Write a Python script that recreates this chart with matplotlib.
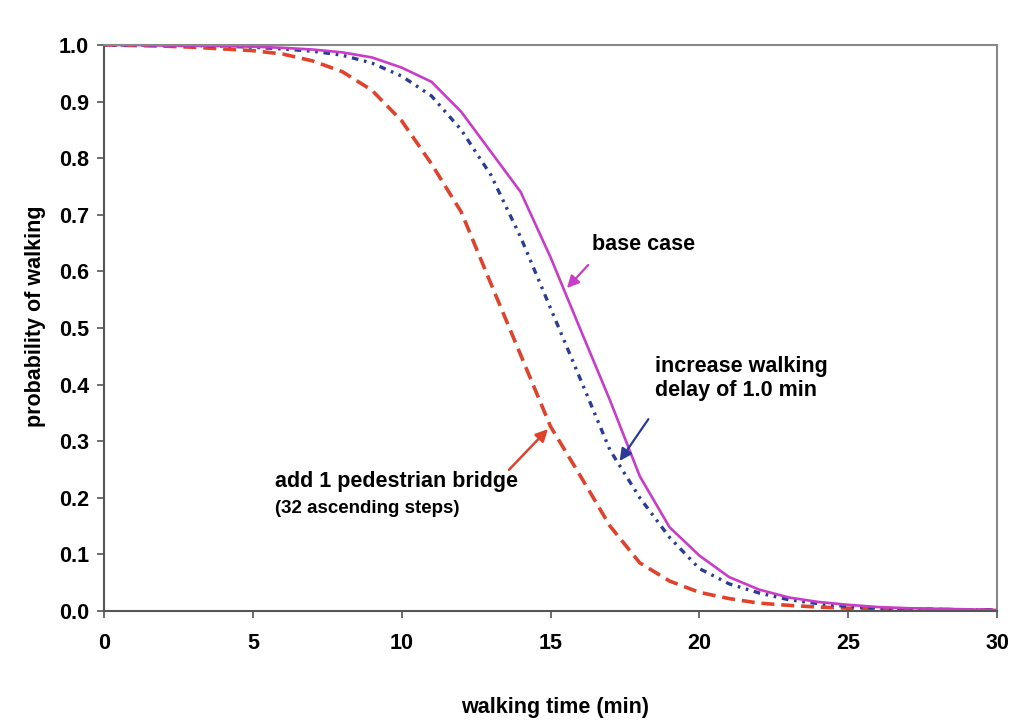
import numpy as np
import matplotlib

matplotlib.use("Agg")
import matplotlib.pyplot as plt

plt.rcParams["font.family"] = ["Liberation Sans", "DejaVu Sans"]
plt.rcParams["font.weight"] = "bold"

# walking time (min)
minutes = list(range(0, 31))

# probability of walking
base_case = [1.000, 1.000, 0.999, 0.999, 0.998, 0.997, 0.995, 0.992, 0.987, 0.978,
             0.960, 0.935, 0.882, 0.811, 0.740, 0.625, 0.498, 0.372, 0.238, 0.148,
             0.098, 0.060, 0.038, 0.024, 0.016, 0.011, 0.007, 0.005, 0.004, 0.003,
             0.002]
delay_1min = [1.000, 1.000, 0.999, 0.999, 0.998, 0.996, 0.993, 0.989, 0.982, 0.968,
              0.945, 0.910, 0.850, 0.770, 0.660, 0.535, 0.410, 0.284, 0.200, 0.130,
              0.075, 0.048, 0.032, 0.020, 0.013, 0.008, 0.005, 0.004, 0.003, 0.002,
              0.002]
ped_bridge = [1.000, 0.999, 0.998, 0.996, 0.993, 0.990, 0.984, 0.972, 0.953, 0.920,
              0.866, 0.790, 0.705, 0.578, 0.452, 0.326, 0.239, 0.150, 0.085, 0.053,
              0.033, 0.022, 0.014, 0.010, 0.007, 0.005, 0.004, 0.003, 0.003, 0.002,
              0.002]

x_ticks = [0, 5, 10, 15, 20, 25, 30]
y_ticks = [0.0, 0.1, 0.2, 0.3, 0.4, 0.5, 0.6, 0.7, 0.8, 0.9, 1.0]

MAGENTA = "#c83cc8"
BLUE = "#2a3c98"
RED = "#e0422c"

fig = plt.figure(figsize=(10.21, 7.22), dpi=100)
ax = fig.add_axes([0.1019, 0.1537, 0.8746, 0.784])

ax.plot(minutes, ped_bridge, color=RED, linewidth=2.6, dashes=(3.6, 1.9))
ax.plot(minutes, delay_1min, color=BLUE, linewidth=2.4,
        dashes=(0.8, 1.7, 0.8, 1.7, 2.0, 1.7))
ax.plot(minutes, base_case, color=MAGENTA, linewidth=1.9)

ax.set_xlim(0, 30)
ax.set_ylim(0, 1.0)
ax.set_xticks(x_ticks)
ax.set_yticks(y_ticks)
ax.set_xticklabels([str(t) for t in x_ticks])
ax.set_yticklabels([f"{t:.1f}" for t in y_ticks])
ax.tick_params(labelsize=15.5, length=5, width=1.2, color="#555555")
ax.tick_params(axis="x", pad=11)
ax.tick_params(axis="y", pad=6)
for lab in ax.get_xticklabels() + ax.get_yticklabels():
    lab.set_fontweight("bold")

for side in ["top", "right"]:
    ax.spines[side].set_color("#888888")
    ax.spines[side].set_linewidth(1.5)
for side in ["left", "bottom"]:
    ax.spines[side].set_color("#555555")
    ax.spines[side].set_linewidth(1.5)

# axis titles placed where the reference puts them
fig.text(555 / 1021, 1 - 708 / 722, "walking time (min)", fontsize=15.5, fontweight="bold",
         ha="center", va="center")
fig.text(36 / 1021, 1 - 316 / 722, "probability of walking", fontsize=15.5, fontweight="bold",
         ha="center", va="center", rotation=90)

# annotations
ax.annotate("", xy=(15.49, 0.567), xytext=(16.33, 0.615),
            arrowprops=dict(arrowstyle="-|>", color=MAGENTA, lw=1.6, mutation_scale=18))
ax.text(16.39, 0.648, "base case", fontsize=15.5, fontweight="bold", va="center", ha="left")

ax.annotate("", xy=(17.27, 0.261), xytext=(18.34, 0.343),
            arrowprops=dict(arrowstyle="-|>", color=BLUE, lw=1.6, mutation_scale=18))
ax.text(18.5, 0.411, "increase walking\ndelay of 1.0 min", fontsize=15.5, fontweight="bold",
        va="center", ha="left", linespacing=1.2)

ax.annotate("", xy=(14.98, 0.325), xytext=(13.54, 0.246),
            arrowprops=dict(arrowstyle="-|>", color=RED, lw=1.8, mutation_scale=18))
ax.text(5.74, 0.229, "add 1 pedestrian bridge", fontsize=15.5, fontweight="bold",
        va="center", ha="left")
ax.text(5.74, 0.182, "(32 ascending steps)", fontsize=13.5, fontweight="bold",
        va="center", ha="left")

fig.savefig("out.png", dpi=100)
